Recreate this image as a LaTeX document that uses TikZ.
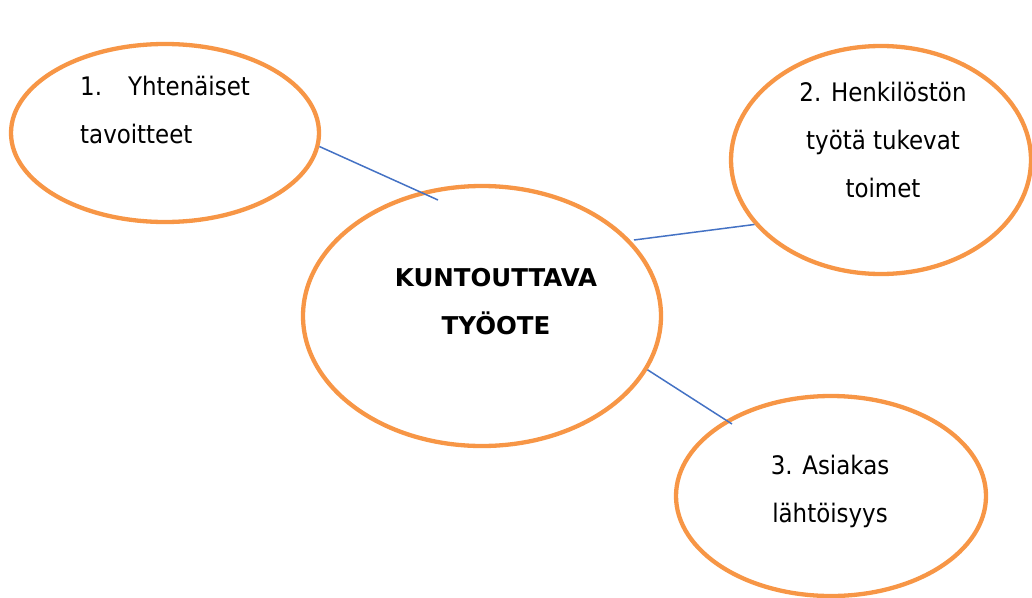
\documentclass[tikz,border=0pt]{standalone}
\usepackage{fontspec}
\setmainfont{DejaVu Sans Condensed}
\newfontfamily\widefont{DejaVu Sans}
\usepackage{xcolor}
\usepackage{tikz}
\usetikzlibrary{calc}
\usetikzlibrary{shapes.geometric}
\definecolor{ringorange}{RGB}{247,150,70}
\definecolor{linkblue}{RGB}{68,114,196}
\tikzset{
  ring/.style={ellipse,draw=ringorange,line width=4.3pt,inner sep=0pt},
  link/.style={draw=linkblue,line width=1.5pt},
  txt/.style={font=\fontsize{25.5}{48}\selectfont,anchor=base,inner sep=0pt}
}
\begin{document}
\begin{tikzpicture}[x=1pt,y=-1pt]
    \useasboundingbox (0,0) rectangle (1032,597);

    % ellipses
    \node[ring,minimum width=308,minimum height=178] (goals) at (165,133){};
    \node[ring,minimum width=300,minimum height=228] (staff) at (881,160){};
    \node[ring,minimum width=358,minimum height=260] (core) at (482,316){};
    \node[ring,minimum width=310,minimum height=200] (client) at (831,496){};

    % texts (base = last line)
    \node[txt,align=left,anchor=base west] (goalstxt) at (80,143)
      {\makebox[48pt][l]{1.}Yhtenäiset\\tavoitteet};
    \node[txt,align=center] (stafftxt) at (883,197)
      {2. Henkilöstön\\työtä tukevat\\toimet};
    \node[txt,align=center,font=\fontsize{24.5}{48}\selectfont\widefont\bfseries] (coretxt) at (496,334)
      {KUNTOUTTAVA\\TYÖOTE};
    \node[txt,align=center] (clienttxt) at (830,522)
      {3. Asiakas\\lähtöisyys};

    \coordinate (c1) at (438,200);
    \coordinate (c2) at (634,240);
    \coordinate (c3) at (732,424);
    \draw[link] (goals.-5) -- (c1);
    \draw[link] (c2) -- (staff.-153);
    \draw[link] (core.-18) -- (c3);

\end{tikzpicture}
\end{document}
